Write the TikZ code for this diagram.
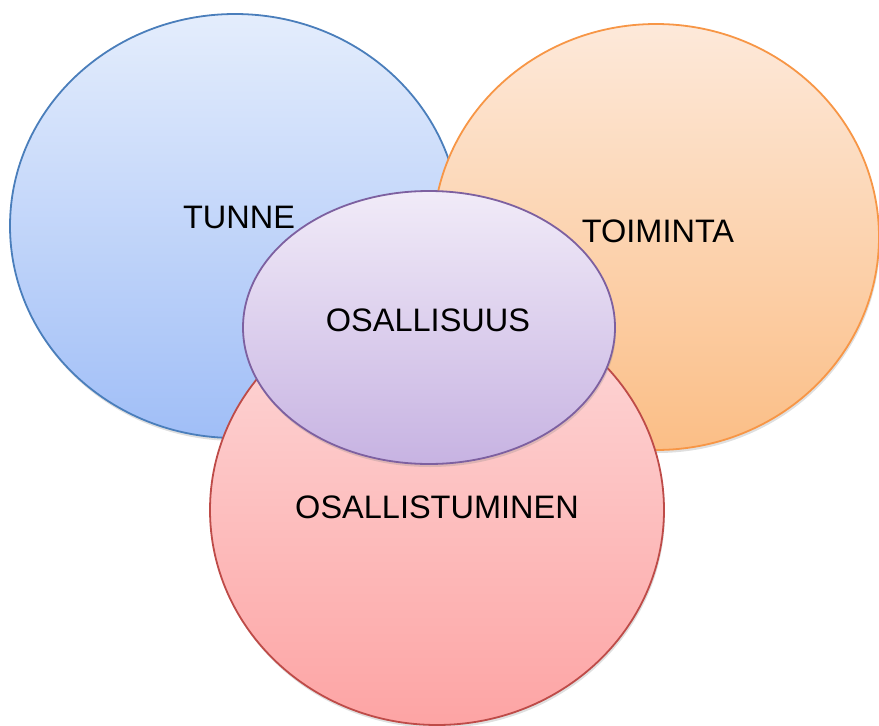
\documentclass[tikz,border=0pt]{standalone}
\usepackage{fontspec}
\setmainfont{Liberation Sans}
\usetikzlibrary{shadows}
\definecolor{tunneline}{HTML}{4A7EBB}
\definecolor{tunnetop}{HTML}{E4EDFC}
\definecolor{tunnebot}{HTML}{A0BEF7}
\definecolor{toimline}{HTML}{F79646}
\definecolor{toimtop}{HTML}{FDE9DA}
\definecolor{toimbot}{HTML}{FBBE86}
\definecolor{osalline}{HTML}{BE4B48}
\definecolor{osaltop}{HTML}{FDDADA}
\definecolor{osalbot}{HTML}{FDA4A4}
\definecolor{suusline}{HTML}{7D60A0}
\definecolor{suustop}{HTML}{F1EBF8}
\definecolor{suusbot}{HTML}{C7B3E2}
\tikzset{
  piiri/.style={line width=1.8pt, drop shadow={shadow xshift=1pt, shadow yshift=-3pt, opacity=0.25}},
  teksti/.style={font=\fontsize{32.5}{38}\selectfont}
}
\begin{document}
\begin{tikzpicture}[x=1pt,y=-1pt]
  \useasboundingbox (0,0) rectangle (879,726);
  \draw[piiri, draw=tunneline, top color=tunnetop, bottom color=tunnebot] (235,226) ellipse (225 and 212);
  \draw[piiri, draw=toimline, top color=toimtop, bottom color=toimbot] (656,237) ellipse (223 and 213);
  \draw[piiri, draw=osalline, top color=osaltop, bottom color=osalbot] (437,510) ellipse (227 and 215);
  \draw[piiri, draw=suusline, top color=suustop, bottom color=suusbot] (429,327.5) ellipse (186 and 136.5);
  \node[teksti] (tunne) at (239,217) {TUNNE};
  \node[teksti] (toiminta) at (658,231) {TOIMINTA};
  \node[teksti] (osallisuus) at (428,320) {OSALLISUUS};
  \node[teksti] (osallistuminen) at (437,507) {OSALLISTUMINEN};
\end{tikzpicture}
\end{document}
